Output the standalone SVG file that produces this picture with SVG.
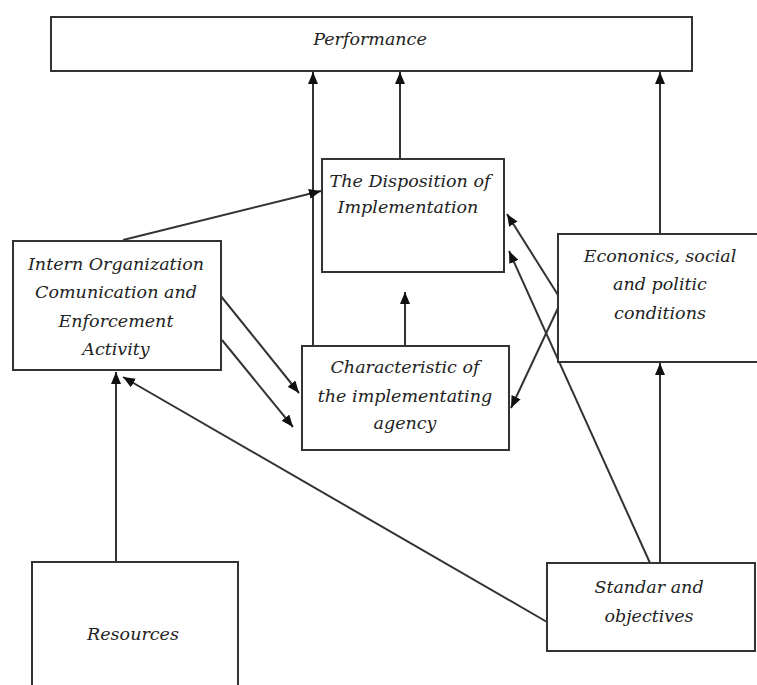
<svg xmlns="http://www.w3.org/2000/svg" width="757" height="685" viewBox="0 0 757 685">
<style>
.box{fill:#fff;stroke:#333;stroke-width:2}
.lbl{font-family:"DejaVu Serif","Liberation Serif",serif;font-style:italic;font-size:17.5px;fill:#222;text-anchor:middle}
.c{stroke:#333;stroke-width:2;fill:none}
.a{marker-end:url(#ah)}
</style>
<defs>
<marker id="ah" markerWidth="12" markerHeight="10" refX="12" refY="5" orient="auto" markerUnits="userSpaceOnUse">
<path d="M0,0 L12,5 L0,10 Z" fill="#111"/>
</marker>
</defs>
<rect width="757" height="685" fill="#fff"/>
<g id="connectors">
<line class="c a" x1="313" y1="346" x2="313" y2="72"/>
<line class="c a" x1="400" y1="159" x2="400" y2="72"/>
<line class="c a" x1="660" y1="234" x2="660" y2="72"/>
<line class="c a" x1="123" y1="240" x2="321" y2="191"/>
<line class="c a" x1="405" y1="345" x2="405" y2="292"/>
<line class="c a" x1="558" y1="295" x2="507" y2="214"/>
<line class="c a" x1="650" y1="563" x2="509" y2="251"/>
<line class="c a" x1="558" y1="308" x2="511" y2="408"/>
<line class="c a" x1="660" y1="563" x2="660" y2="363"/>
<line class="c a" x1="547" y1="622" x2="123" y2="377"/>
<line class="c a" x1="116" y1="562" x2="116" y2="372"/>
<line class="c a" x1="220" y1="295" x2="299" y2="393"/>
<line class="c a" x1="222" y1="340" x2="293" y2="427"/>
</g>
<g id="performance">
<rect class="box" x="51" y="17" width="641" height="54"/>
<text class="lbl" x="370" y="45">Performance</text>
</g>
<g id="disposition">
<rect class="box" x="322" y="159" width="182" height="113"/>
<text class="lbl" x="410" y="187">The Disposition of</text>
<text class="lbl" x="408" y="213">Implementation</text>
</g>
<g id="intern">
<rect class="box" x="13" y="241" width="208" height="129"/>
<text class="lbl" x="116" y="270">Intern Organization</text>
<text class="lbl" x="116" y="298">Comunication and</text>
<text class="lbl" x="116" y="327">Enforcement</text>
<text class="lbl" x="116" y="355">Activity</text>
</g>
<g id="characteristic">
<rect class="box" x="302" y="346" width="207" height="104"/>
<text class="lbl" x="405" y="373">Characteristic of</text>
<text class="lbl" x="405" y="402">the implementating</text>
<text class="lbl" x="405" y="429">agency</text>
</g>
<g id="economics">
<rect class="box" x="558" y="234" width="210" height="128"/>
<text class="lbl" x="660" y="262">Econonics, social</text>
<text class="lbl" x="660" y="290">and politic</text>
<text class="lbl" x="660" y="319">conditions</text>
</g>
<g id="standar">
<rect class="box" x="547" y="563" width="208" height="88"/>
<text class="lbl" x="649" y="593">Standar and</text>
<text class="lbl" x="649" y="622">objectives</text>
</g>
<g id="resources">
<rect class="box" x="32" y="562" width="206" height="140"/>
<text class="lbl" x="133" y="640">Resources</text>
</g>
</svg>
